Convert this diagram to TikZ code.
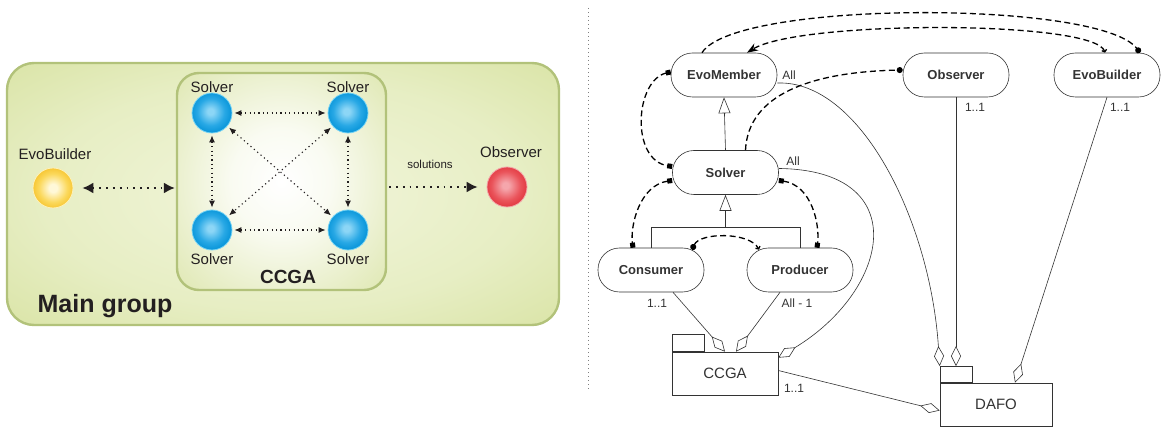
\documentclass[tikz,border=0pt]{standalone}
\usepackage{fontspec}
\setmainfont{Liberation Sans}
\usetikzlibrary{arrows.meta}
\definecolor{mgout}{HTML}{CBD884}
\definecolor{mgmid}{HTML}{D9E4A6}
\definecolor{mgin}{HTML}{F2F6DC}
\definecolor{mgedge}{HTML}{B2C27A}
\definecolor{ccout}{HTML}{CFDB8C}
\definecolor{ccmid}{HTML}{E3EBBC}
\definecolor{bin}{HTML}{8CD6F6}
\definecolor{bmid}{HTML}{28A8E5}
\definecolor{bout}{HTML}{0090D6}
\definecolor{bedge}{HTML}{74D2F4}
\definecolor{yin}{HTML}{FFF8D8}
\definecolor{ymid}{HTML}{FBD85A}
\definecolor{yout}{HTML}{F5BE22}
\definecolor{yedge}{HTML}{FDF1B8}
\definecolor{rin}{HTML}{F5A6AC}
\definecolor{rmid}{HTML}{EA545B}
\definecolor{rout}{HTML}{DF3038}
\definecolor{redge}{HTML}{F3A3A8}
\definecolor{ink}{HTML}{231F20}
\definecolor{uml}{HTML}{333333}
\pgfdeclareradialshading{mgsh}{\pgfpoint{0bp}{0bp}}{color(0bp)=(mgin); color(22bp)=(mgin!55!mgmid); color(46bp)=(mgmid!40!mgout); color(72bp)=(mgout)}
\pgfdeclareradialshading{ccsh}{\pgfpoint{0bp}{0bp}}{color(0bp)=(white); color(12bp)=(white!80!ccmid); color(40bp)=(ccmid!55!ccout); color(72bp)=(ccout)}
\pgfdeclareradialshading{bsh}{\pgfpoint{-2bp}{2bp}}{color(0bp)=(bin); color(4bp)=(bin); color(17bp)=(bmid); color(28bp)=(bout); color(60bp)=(bout)}
\pgfdeclareradialshading{ysh}{\pgfpoint{0bp}{0bp}}{color(0bp)=(yin); color(5bp)=(yin); color(18bp)=(ymid); color(29bp)=(yout); color(60bp)=(yout)}
\pgfdeclareradialshading{rsh}{\pgfpoint{-2bp}{2bp}}{color(0bp)=(rin); color(4bp)=(rin); color(18bp)=(rmid); color(29bp)=(rout); color(60bp)=(rout)}
\begin{document}
\begin{tikzpicture}[x=1pt,y=-1pt,
  group/.style={draw=mgedge, line width=2.4pt, rounded corners=27pt, inner sep=0pt, shade, shading=mgsh},
  ballbase/.style={circle, minimum size=40pt, inner sep=0pt, line width=0.8pt, shade},
  sball/.style={ballbase, draw=bedge, shading=bsh},
  yball/.style={ballbase, draw=yedge, shading=ysh},
  rball/.style={ballbase, draw=redge, shading=rsh},
  lbl/.style={text=ink, font=\fontsize{15}{18}\selectfont, inner sep=0pt},
  smalldot/.style={draw=ink, line width=1.1pt, dash pattern=on 1.2pt off 3.2pt, {Latex[length=7pt,width=6pt]}-{Latex[length=7pt,width=6pt]}, shorten <=2pt, shorten >=2pt},
  bigdot/.style={draw=ink, line width=1.7pt, dash pattern=on 1.8pt off 5pt},
  pill/.style={draw=uml, line width=0.6pt, rounded corners=21.5pt, minimum width=106pt, minimum height=44pt, text=uml, font=\bfseries\fontsize{13}{15}\selectfont},
  pkg/.style={draw=uml, line width=0.6pt, minimum height=43pt, text=uml, font=\fontsize{15}{18}\selectfont},
  pkgtab/.style={draw=uml, line width=0.6pt, minimum width=32pt, minimum height=17pt, inner sep=0pt, anchor=south west},
  mult/.style={text=uml, font=\fontsize{12}{14}\selectfont, inner sep=0pt},
  assoc/.style={draw=uml, line width=0.6pt},
  agg/.style={assoc, -{Diamond[open,length=20pt,width=10pt]}},
  inh/.style={assoc, -{Triangle[open,length=16pt,width=12pt]}},
  dsh/.style={draw=black, line width=1.3pt, dash pattern=on 6pt off 3.5pt}
]
\useasboundingbox (0,0) rectangle (1175,427);

% ---------------- left: main group ----------------
\node[group, minimum width=552pt, minimum height=262pt] (main) at (283,194) {};
\node[group, rounded corners=22pt, minimum width=209pt, minimum height=217pt, shading=ccsh] (ccgabox) at (281.5,181.5) {};

\node[sball] (s1) at (212,113) {};
\node[sball] (s2) at (348,113) {};
\node[sball] (s3) at (212,230) {};
\node[sball] (s4) at (348,230) {};
\node[lbl] (l1) at (212,87) {Solver};
\node[lbl] (l2) at (348,87) {Solver};
\node[lbl] (l3) at (212,259) {Solver};
\node[lbl] (l4) at (348,259) {Solver};
\node[text=ink, font=\bfseries\fontsize{19}{22}\selectfont, inner sep=0pt] (ccgat) at (288,277) {CCGA};
\node[text=ink, font=\bfseries\fontsize{25}{30}\selectfont, inner sep=0pt] (mgt) at (105,306) {Main group};

\node[yball] (ebc) at (53,188) {};
\node[lbl] (ebl) at (55,154) {EvoBuilder};
\node[rball] (obc) at (507,187) {};
\node[lbl] (obl) at (511,152) {Observer};
\node[text=ink, font=\fontsize{11.5}{13}\selectfont, inner sep=0pt] (sol) at (430,164) {solutions};

\draw[smalldot] (s1) -- (s2);
\draw[smalldot] (s3) -- (s4);
\draw[smalldot] (s1) -- (s3);
\draw[smalldot] (s2) -- (s4);
\draw[smalldot] (s1) -- (s4);
\draw[smalldot] (s2) -- (s3);

\draw[bigdot, {Latex[length=11pt,width=11pt]}-{Latex[length=11pt,width=11pt]}, shorten <=9pt, shorten >=1pt] (ebc) -- (ebc -| ccgabox.west);
\draw[bigdot, -{Latex[length=11pt,width=11pt]}, shorten <=2pt, shorten >=9pt] (ccgabox.east |- obc) -- (obc);

% ---------------- separator ----------------
\draw[gray, line width=0.8pt, dash pattern=on 1pt off 3pt] (588,8) -- (588,392);

% ---------------- right: UML ----------------
\node[pill] (em) at (724,75) {EvoMember};
\node[pill] (obs) at (956,75) {Observer};
\node[pill] (eb) at (1107,75) {EvoBuilder};
\node[pill] (sv) at (725.5,172.5) {Solver};
\node[pill] (cons) at (651,270) {Consumer};
\node[pill] (prod) at (800,270) {Producer};

\node[pkg, minimum width=106pt] (ccga) at (725,373.5) {CCGA};
\node[pkgtab] (ccgatab) at (ccga.north west) {};
\node[pkg, minimum width=112pt] (dafo) at (996,404.5) {DAFO};
\node[pkgtab, minimum height=16pt] (dafotab) at (dafo.north west) {};

% inheritance
\path (sv.south) ++(0,33) coordinate (junc);
\draw[assoc] (cons.north) |- (junc) -| (prod.north);
\draw[inh] (junc) -- (sv.south);
\draw[inh] (sv.north) -- (em.south);

% aggregations
\draw[agg] ([yshift=-8pt]em.east) .. controls (860,80) and (930,220) .. (dafotab.north west);
\draw[agg] (obs.south) -- (obs.south |- dafotab.north);
\draw[agg] (eb.south) -- ([xshift=19pt]dafo.north);
\draw[agg] ([yshift=4pt]sv.east) .. controls (915,170) and (890,290) .. ([yshift=-6pt]ccga.north east);
\draw[agg] ([xshift=22pt]cons.south) -- (ccga.north);
\draw[agg] ([xshift=-20pt]prod.south) -- ([xshift=11pt]ccga.north);
\draw[agg] ([yshift=3pt]ccga.east) -- ([yshift=-6pt]dafo.west);

% multiplicities
\node[mult] (lem) at (789,75) {All};
\node[mult] (lsv) at (793,161) {All};
\node[mult] (lobs) at (975,107) {1..1};
\node[mult] (leb) at (1120,107) {1..1};
\node[mult] (lcons) at (657,303) {1..1};
\node[mult] (lprod) at (797,303) {All - 1};
\node[mult] (lccga) at (794,388) {1..1};

% dashed dependencies
\draw[dsh, -{Circle[length=6pt,width=6pt]}] ([xshift=-22pt]em.north) .. controls (735,0) and (1100,0) .. ([xshift=33pt]eb.north);
\draw[dsh, {Straight Barb[length=2pt,width=5pt]}-{Stealth[length=11pt,width=8pt]}] ([xshift=-2pt]eb.north) .. controls (1095,20) and (800,20) .. ([xshift=23pt]em.north);
\draw[dsh, -{Circle[length=6pt,width=6pt]}] ([xshift=20pt]sv.north) .. controls (748,95) and (810,72) .. ([yshift=5pt]obs.west);
\draw[dsh, {Square[length=5pt,width=5pt]}-{Square[length=5pt,width=5pt]}] ([yshift=3pt]em.west) .. controls (635,80) and (630,160) .. ([yshift=6pt]sv.west);
\draw[dsh, {Square[length=5pt,width=5pt]}-{Square[length=5pt,width=5pt]}] ([yshift=-8pt]sv.west) .. controls (640,185) and (630,225) .. ([xshift=-18pt]cons.north);
\draw[dsh, {Square[length=5pt,width=5pt]}-{Square[length=5pt,width=5pt]}] ([yshift=-8pt]sv.east) .. controls (812,185) and (820,225) .. ([xshift=17pt]prod.north);
\draw[dsh, {Circle[length=6pt,width=6pt]}-{Straight Barb[length=2pt,width=5pt]}] ([xshift=41pt,yshift=-2pt]cons.north) .. controls (700,232) and (750,232) .. ([xshift=-41pt,yshift=-2pt]prod.north);
\end{tikzpicture}
\end{document}
